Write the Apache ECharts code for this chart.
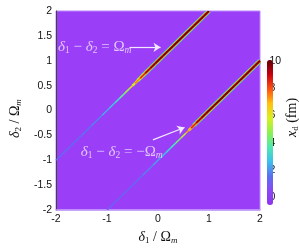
<!DOCTYPE html>
<html><head><meta charset="utf-8">
<script src="https://cdn.jsdelivr.net/npm/echarts@6/dist/echarts.min.js"></script>
<style>html,body{margin:0;padding:0;background:#fff}#c{width:299px;height:250px}</style>
</head><body><div id="c"></div>
<script>
// axis ticks
const xTicks = [-2, -1, 0, 1, 2];
const yTicks = [-2, -1.5, -1, -0.5, 0, 0.5, 1, 1.5, 2];
const cbarTicks = [0, 2, 4, 6, 8, 10];
const cbarRange = [-0.6, 10.1];

// upper ridge
const upperD1 = [-2.0, -1.8, -1.6, -1.4, -1.2, -1.0, -0.9, -0.8, -0.7, -0.6, -0.5, -0.4, -0.3, -0.2, -0.1, 0.0, 0.2, 0.4, 0.6, 0.8, 1.0];
const upperD2 = [-1.0, -0.8, -0.6, -0.4, -0.2, 0.0, 0.1, 0.2, 0.3, 0.4, 0.5, 0.6, 0.7, 0.8, 0.9, 1.0, 1.2, 1.4, 1.6, 1.8, 2.0];
const upperCore  = [1.2, 1.3, 1.4, 1.6, 1.8, 2.3, 2.7, 3.2, 4.0, 5.0, 6.2, 7.5, 8.6, 9.4, 9.9, 10, 10, 10, 10, 10, 10];
const upperInner = [null, null, null, null, null, null, null, null, null, null, 5.0, 6.0, 7.0, 7.8, 8.2, 8.4, 8.5, 8.5, 8.5, 8.5, 8.5];
const upperMid   = [null, null, null, null, null, null, null, null, null, null, null, 3.8, 4.5, 5.0, 5.2, 5.3, 5.3, 5.3, 5.3, 5.3, 5.3];
const upperOuter = [null, null, null, null, null, null, null, null, null, null, null, null, 2.0, 2.2, 2.3, 2.3, 2.3, 2.3, 2.3, 2.3, 2.3];

// lower ridge
const lowerD1 = [-1.0, -0.8, -0.6, -0.4, -0.2, 0.0, 0.1, 0.2, 0.3, 0.4, 0.5, 0.6, 0.7, 0.8, 0.9, 1.0, 1.2, 1.4, 1.6, 1.8, 2.0];
const lowerD2 = [-2.0, -1.8, -1.6, -1.4, -1.2, -1.0, -0.9, -0.8, -0.7, -0.6, -0.5, -0.4, -0.3, -0.2, -0.1, 0.0, 0.2, 0.4, 0.6, 0.8, 1.0];
const lowerCore  = [1.1, 1.2, 1.3, 1.5, 1.8, 2.2, 2.5, 2.9, 3.5, 4.3, 5.5, 7.2, 8.6, 9.5, 9.9, 10, 10, 10, 10, 10, 10];
const lowerInner = [null, null, null, null, null, null, null, null, null, null, null, 6.0, 7.2, 8.0, 8.3, 8.5, 8.5, 8.5, 8.5, 8.5, 8.5];
const lowerMid   = [null, null, null, null, null, null, null, null, null, null, null, null, 4.5, 5.0, 5.2, 5.3, 5.3, 5.3, 5.3, 5.3, 5.3];
const lowerOuter = [null, null, null, null, null, null, null, null, null, null, null, null, 1.8, 2.1, 2.3, 2.3, 2.3, 2.3, 2.3, 2.3, 2.3];

// annotations (data coordinates)
const ann1Text = [-1.24, 1.27];
const ann1Arrow = [[-0.56, 1.27], [0.05, 1.27]];
const ann2Text = [-0.71, -0.83];
const ann2Arrow = [[-0.1, -0.59], [0.52, -0.34]];

const colormap = ['#8f33f0', '#8a48f5', '#5a70f0', '#3cc0ec', '#50e8b0', '#8ef050', '#d8f020', '#ffc010', '#ff5010', '#c80010', '#600000'];

const serif = '"Liberation Serif","Times New Roman",serif';
const sans = '"Liberation Sans",Arial,sans-serif';

function ridge(xs, ys, vals, width) {
  return {
    type: 'custom', coordinateSystem: 'cartesian2d', xAxisIndex: 0, yAxisIndex: 0,
    clip: true, silent: true, animation: false,
    data: xs.map((x, i) => [x, ys[i], vals[i] == null ? '-' : vals[i]]),
    renderItem: function (params, api) {
      const i = params.dataIndex;
      const v = api.value(2);
      if (v == null || isNaN(v)) return null;
      const p = api.coord([xs[i], ys[i]]);
      const prev = (i > 0 && vals[i - 1] != null) ? api.coord([xs[i - 1], ys[i - 1]]) : p;
      const next = i < xs.length - 1 ? api.coord([xs[i + 1], ys[i + 1]]) : p;
      const a = [(prev[0] + p[0]) / 2, (prev[1] + p[1]) / 2];
      const b = [(next[0] + p[0]) / 2, (next[1] + p[1]) / 2];
      return {
        type: 'polyline', shape: { points: [a, p, b] },
        style: { stroke: api.visual('color'), lineWidth: width, fill: null, lineCap: 'butt', lineJoin: 'round' }
      };
    }
  };
}

const mathRich = {
  d: { fontFamily: serif, fontStyle: 'italic', fontSize: 14 },
  s: { fontFamily: serif, fontSize: 9, padding: [7, 0, 0, 0] },
  si: { fontFamily: serif, fontStyle: 'italic', fontSize: 9, padding: [7, 0, 0, 0] },
  n: { fontFamily: serif, fontSize: 14 }
};
const annRich = {
  d: { fontFamily: serif, fontStyle: 'italic', fontSize: 15 },
  s: { fontFamily: serif, fontSize: 9.5, padding: [7, 0, 0, 0] },
  si: { fontFamily: serif, fontStyle: 'italic', fontSize: 9.5, padding: [7, 0, 0, 0] },
  n: { fontFamily: serif, fontSize: 15 }
};
function withColor(rich, color) {
  const r = {};
  for (const k in rich) r[k] = Object.assign({}, rich[k], { color: color });
  return r;
}

const chart = echarts.init(document.getElementById('c'), null, { renderer: 'canvas' });
const annColor = '#f2e8ff';

chart.setOption({
  animation: false,
  grid: [
    { left: 49, top: 11, width: 211, height: 202, show: true, backgroundColor: '#9b3ef7', borderColor: '#b98af8', borderWidth: 1 },
    { left: 267, top: 60, width: 6, height: 145, show: false }
  ],
  xAxis: [
    {
      type: 'value', gridIndex: 0, min: xTicks[0], max: xTicks[xTicks.length - 1], interval: 1,
      axisLine: { show: true, onZero: false, lineStyle: { color: '#c4a0fa', width: 1.5 } },
      axisTick: { show: false }, splitLine: { show: false },
      axisLabel: { color: '#111', fontSize: 10.5, fontFamily: sans, margin: 4 },
      name: '{d|δ}{s|1}{n| / Ω}{si|m}', nameLocation: 'middle', nameGap: 17,
      nameTextStyle: { color: '#111', rich: withColor(mathRich, '#111') }
    },
    { type: 'value', gridIndex: 1, show: false, min: 0, max: 1 }
  ],
  yAxis: [
    {
      type: 'value', gridIndex: 0, min: yTicks[0], max: yTicks[yTicks.length - 1], interval: 0.5,
      axisLine: { show: true, onZero: false, lineStyle: { color: '#444', width: 1 } },
      axisTick: { show: false }, splitLine: { show: false },
      axisLabel: { color: '#111', fontSize: 10.5, fontFamily: sans, margin: 4 },
      name: '{d|δ}{s|2}{n| / Ω}{si|m}', nameLocation: 'middle', nameGap: 27, nameRotate: 90,
      nameTextStyle: { color: '#111', padding: [0, 16, 0, 0], rich: withColor(mathRich, '#111') }
    },
    {
      type: 'value', gridIndex: 1, position: 'right', min: cbarRange[0], max: cbarRange[1],
      axisLine: { show: false }, axisTick: { show: false }, splitLine: { show: false },
      axisLabel: { color: '#111', fontSize: 10.5, fontFamily: sans, margin: 1, customValues: cbarTicks },
      name: '{d|x}{s|d}{n| (fm)}', nameLocation: 'middle', nameGap: 12, nameRotate: 90,
      nameTextStyle: { color: '#111', padding: [0, 0, 0, 30], rich: withColor(mathRich, '#111') }
    }
  ],
  visualMap: {
    type: 'continuous', min: cbarRange[0], max: cbarRange[1], dimension: 2,
    seriesIndex: [0, 1, 2, 3, 4, 5, 6, 7], calculable: false, realtime: false,
    orient: 'vertical', left: 267, top: 60, itemWidth: 6, itemHeight: 145, padding: 0,
    text: ['', ''], inRange: { color: colormap }
  },
  series: [
    ridge(upperD1, upperD2, upperOuter, 5),
    ridge(lowerD1, lowerD2, lowerOuter, 5),
    ridge(upperD1, upperD2, upperMid, 3.8),
    ridge(lowerD1, lowerD2, lowerMid, 3.8),
    ridge(upperD1, upperD2, upperInner, 2.6),
    ridge(lowerD1, lowerD2, lowerInner, 2.6),
    ridge(upperD1, upperD2, upperCore, 1.5),
    ridge(lowerD1, lowerD2, lowerCore, 1.5),
    {
      type: 'scatter', symbolSize: 0, silent: true, data: [ann1Text],
      label: { show: true, position: 'inside', formatter: '{d|δ}{s|1}{n| − }{d|δ}{s|2}{n| = Ω}{si|m}', rich: withColor(annRich, annColor) }
    },
    {
      type: 'scatter', symbolSize: 0, silent: true, data: [ann2Text],
      label: { show: true, position: 'inside', formatter: '{d|δ}{s|1}{n| − }{d|δ}{s|2}{n| = −Ω}{si|m}', rich: withColor(annRich, annColor) }
    },
    {
      type: 'line', data: [], silent: true,
      markLine: {
        silent: true, symbol: ['none', 'arrow'], symbolSize: 7,
        label: { show: false },
        lineStyle: { color: annColor, width: 1.2, type: 'solid' },
        data: [
          [{ coord: ann1Arrow[0] }, { coord: ann1Arrow[1] }],
          [{ coord: ann2Arrow[0] }, { coord: ann2Arrow[1] }]
        ]
      }
    }
  ]
});
</script>
</body></html>
